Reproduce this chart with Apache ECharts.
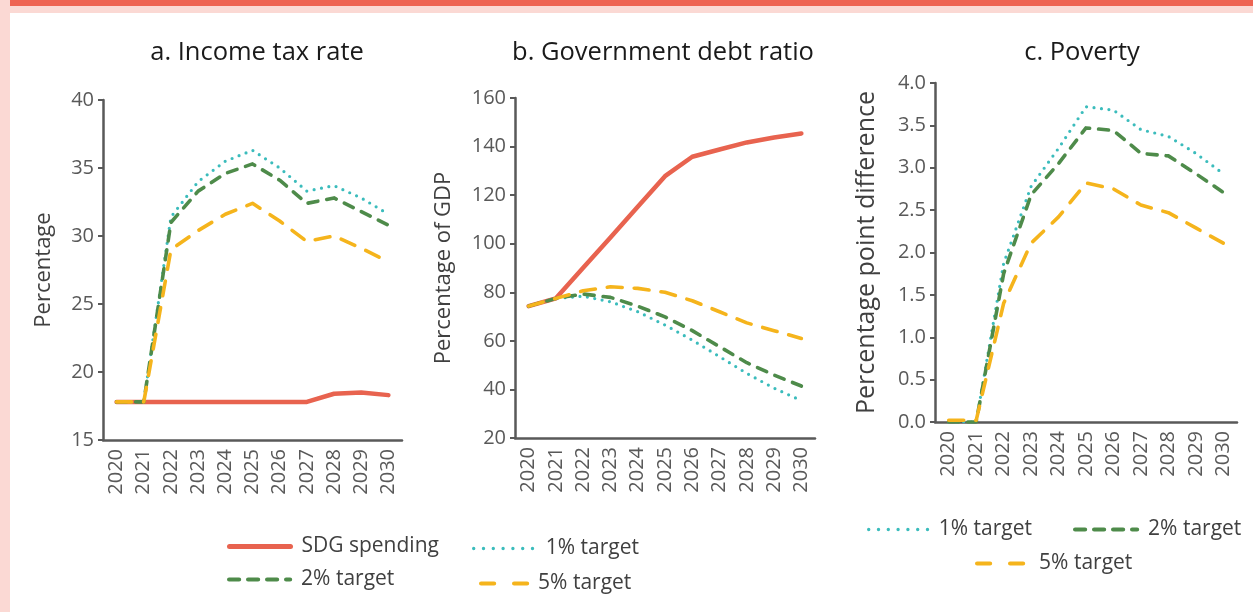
<!DOCTYPE html>
<html><head><meta charset="utf-8">
<script src="https://cdn.jsdelivr.net/npm/echarts@6/dist/echarts.min.js"></script>
<style>html,body{margin:0;padding:0;background:#fff}#c{width:1253px;height:612px}</style>
</head><body><div id="c"></div>
<script>
const years = ['2020','2021','2022','2023','2024','2025','2026','2027','2028','2029','2030'];
// Panel a: Income tax rate (percentage)
const taxSDG = [17.8,17.8,17.8,17.8,17.8,17.8,17.8,17.8,18.4,18.5,18.3];
const tax1 = [17.8,17.8,31.4,34.0,35.5,36.3,35.0,33.3,33.7,32.8,31.6];
const tax2 = [17.8,17.8,31.0,33.3,34.6,35.3,34.1,32.4,32.8,31.8,30.8];
const tax5 = [17.8,17.8,29.0,30.4,31.6,32.4,31.1,29.6,30.0,29.1,28.1];
// Panel b: Government debt ratio (percentage of GDP)
const debtSDG = [74.3,77.5,90.1,102.6,115.2,127.8,135.8,138.8,141.7,143.7,145.4];
const debt1 = [74.3,77.5,78.4,76.1,72.0,66.5,60.3,53.5,46.6,40.5,35.4];
const debt2 = [74.3,77.5,79.3,77.9,74.3,69.9,64.2,57.6,51.0,45.9,41.4];
const debt5 = [74.3,77.5,80.6,82.3,81.6,80.0,76.5,72.0,67.4,64.2,61.0];
// Panel c: Poverty (percentage point difference)
const pov1 = [0,0,1.87,2.78,3.23,3.72,3.68,3.45,3.37,3.17,2.93];
const pov2 = [0,0,1.75,2.68,3.05,3.47,3.44,3.17,3.14,2.93,2.71];
const pov5 = [0.02,0.02,1.40,2.11,2.42,2.82,2.75,2.56,2.47,2.29,2.11];
const titles = ['a. Income tax rate', 'b. Government debt ratio', 'c. Poverty'];
const yNames = ['Percentage', 'Percentage of GDP', 'Percentage point difference'];

const FONT = '"Open Sans", sans-serif';
const C_RED = '#E8634F', C_TEAL = '#3BBCBC', C_GREEN = '#4E8B4A', C_YEL = '#F5B41C';
const AX = '#595959', TXT = '#404040';

const styles = {
  'SDG spending': {color: C_RED, width: 4.5, type: 'solid', cap: 'round'},
  '1% target': {color: C_TEAL, width: 3.2, type: [0, 7.5], cap: 'round'},
  '2% target': {color: C_GREEN, width: 3.6, type: [10, 9], cap: 'round'},
  '5% target': {color: C_YEL, width: 3.6, type: [15, 12], cap: 'round'}
};
const legStyles = {
  'SDG spending': {color: C_RED, width: 5, type: 'solid', cap: 'round'},
  '1% target': {color: C_TEAL, width: 3.4, type: [0, 9.8], cap: 'round'},
  '2% target': {color: C_GREEN, width: 4.2, type: [10, 9], cap: 'round'},
  '5% target': {color: C_YEL, width: 4.2, type: [13, 20], cap: 'round', dashOffset: -2}
};
function ser(name, data, idx, z) {
  const s = styles[name];
  return {type: 'line', name, data, xAxisIndex: idx, yAxisIndex: idx, symbol: 'none', smooth: false, z: z,
    itemStyle: {color: s.color},
    lineStyle: {color: s.color, width: s.width, type: s.type, cap: s.cap, join: 'round'}};
}
const grids = [
  {left: 103, top: 100, width: 299, height: 340},
  {left: 515, top: 98, width: 300, height: 340},
  {left: 935, top: 83, width: 302, height: 339}
];
function xA(i) {
  return {type: 'category', gridIndex: i, data: years, boundaryGap: true,
    axisLine: {lineStyle: {color: AX, width: 2.5}}, axisTick: {show: false},
    axisLabel: {rotate: 90, color: AX, fontSize: 20, fontFamily: FONT, margin: 9}};
}
function yA(i, min, max, interval, gap, fs, dec) {
  return {type: 'value', gridIndex: i, min, max, interval, name: yNames[i], nameLocation: 'middle', nameGap: gap,
    nameTextStyle: {color: TXT, fontSize: fs, fontFamily: FONT},
    splitLine: {show: false},
    axisLine: {show: true, lineStyle: {color: AX, width: 2.5}},
    axisTick: {show: true, length: 5, lineStyle: {color: AX, width: 2}},
    axisLabel: {color: AX, fontSize: 20, fontFamily: FONT, margin: 9,
      formatter: v => dec ? v.toFixed(1) : String(v)}};
}
function leg(name, left, top, w, pad) {
  const ls = legStyles[name];
  return {data: [name], icon: 'inherit', left, top, itemWidth: w, itemHeight: 20, selectedMode: false,
    itemStyle: {color: 'transparent', borderWidth: 0, opacity: 0},
    lineStyle: {color: ls.color, width: ls.width, type: ls.type, cap: ls.cap, dashOffset: ls.dashOffset || 0},
    textStyle: {color: TXT, fontSize: 21, fontFamily: FONT, padding: [0, 0, 0, pad]}};
}
function ttl(i, x) {
  return {type: 'text', x, y: 53, silent: true,
    style: {text: titles[i], fill: '#1a1a1a', font: '25.5px ' + FONT, textAlign: 'center', textVerticalAlign: 'middle'}};
}
const chart = echarts.init(document.getElementById('c'));
chart.setOption({
  animation: false,
  backgroundColor: '#fff',
  graphic: [
    {type: 'rect', shape: {x: 0, y: 0, width: 10, height: 612}, style: {fill: '#FBD9D4'}, silent: true},
    {type: 'rect', shape: {x: 0, y: 6, width: 1253, height: 7}, style: {fill: '#FBD9D4'}, silent: true},
    {type: 'rect', shape: {x: 10, y: 0, width: 1243, height: 6}, style: {fill: '#EE6352'}, silent: true},
    ttl(0, 257), ttl(1, 663), ttl(2, 1082)
  ],
  legend: [
    leg('SDG spending', 222, 531, 61, 6),
    leg('1% target', 467, 533, 60, 7),
    leg('2% target', 222, 564, 61, 6),
    leg('5% target', 472, 568, 50, 4),
    leg('1% target', 862, 514, 60, 5),
    leg('2% target', 1068, 514, 62, 6),
    leg('5% target', 968, 548, 52, 7)
  ],
  grid: grids,
  xAxis: [xA(0), xA(1), xA(2)],
  yAxis: [
    yA(0, 15, 40, 5, 48, 22, false),
    yA(1, 20, 160, 20, 60, 22, false),
    yA(2, 0, 4, 0.5, 56, 25, true)
  ],
  series: [
    ser('1% target', tax1, 0, 2), ser('2% target', tax2, 0, 3), ser('5% target', tax5, 0, 4), ser('SDG spending', taxSDG, 0, 1),
    ser('SDG spending', debtSDG, 1, 1), ser('1% target', debt1, 1, 2), ser('2% target', debt2, 1, 3), ser('5% target', debt5, 1, 4),
    ser('1% target', pov1, 2, 2), ser('2% target', pov2, 2, 3), ser('5% target', pov5, 2, 4)
  ]
});
</script></body></html>
